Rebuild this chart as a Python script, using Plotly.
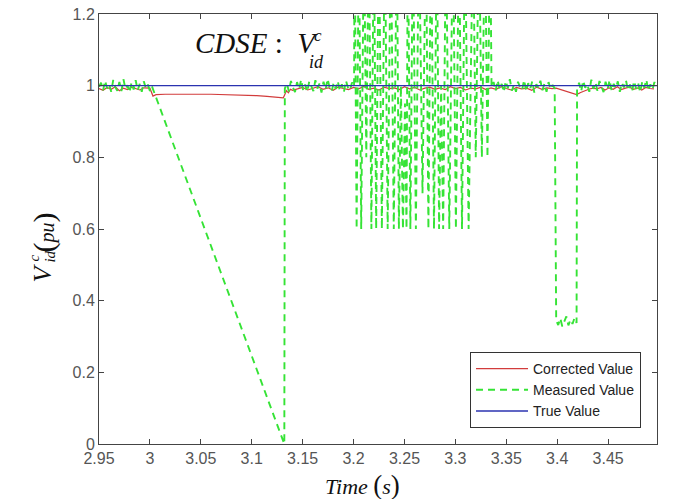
import plotly.graph_objects as go

# ---------------- data ----------------
x_tick_vals = [2.95, 3.0, 3.05, 3.1, 3.15, 3.2, 3.25, 3.3, 3.35, 3.4, 3.45]
x_tick_text = ["2.95", "3", "3.05", "3.1", "3.15", "3.2", "3.25", "3.3", "3.35", "3.4", "3.45"]
y_tick_vals = [0, 0.2, 0.4, 0.6, 0.8, 1.0, 1.2]
y_tick_text = ["0", "0.2", "0.4", "0.6", "0.8", "1", "1.2"]

true_t = [2.95, 3.5]
true_v = [1.0, 1.0]

MEAS_STEP = 0.002
meas_A_start = 2.950
meas_A = [0.997, 1.008, 0.987, 1.014, 0.992, 1.004, 0.983, 1.016, 0.996, 0.986, 1.010, 0.985, 1.018, 0.991,
          1.001, 0.981, 1.009, 0.989, 1.015, 0.987, 1.005, 0.983, 1.012, 0.993, 1.003, 0.985, 0.998]
ramp_t = [3.132]
ramp_v = [0.0]
meas_B_start = 3.1325
meas_B = [0.992, 1.006, 0.984, 1.013, 0.995, 0.982, 1.010, 0.990, 1.017, 0.987, 1.003, 0.983, 1.012, 0.996,
          0.985, 1.015, 0.992, 1.006, 0.981, 1.011, 0.989, 1.019, 0.994, 0.984, 1.008, 0.991, 1.013, 0.986,
          1.004, 0.982, 1.014, 0.995, 0.987, 1.009, 0.997]
osc_t = [3.2010, 3.2030, 3.2052, 3.2075, 3.2102, 3.2125, 3.2150, 3.2175, 3.2199, 3.2222, 3.2248, 3.2278,
         3.2307, 3.2335, 3.2366, 3.2395, 3.2425, 3.2445, 3.2465, 3.2485, 3.2505, 3.2520, 3.2533, 3.2558,
         3.2583, 3.2612, 3.2642, 3.2677, 3.2711, 3.2735, 3.2760, 3.2790, 3.2818, 3.2840, 3.2860, 3.2880,
         3.2907, 3.2940, 3.2976, 3.3005, 3.3035, 3.3065, 3.3094, 3.3130, 3.3173, 3.3200, 3.3232, 3.3260,
         3.3291, 3.3315, 3.3341]
osc_v = [1.45, 0.60, 1.45, 0.60, 1.45, 0.80, 1.45, 0.60, 1.45, 0.60, 1.45, 0.60,
         1.45, 0.60, 1.45, 0.60, 1.45, 0.60, 1.00, 0.60, 0.95, 0.60, 1.45, 0.60,
         1.45, 0.60, 1.45, 0.70, 1.45, 0.60, 1.45, 0.60, 1.45, 0.60, 1.00, 0.60,
         1.45, 0.60, 1.45, 0.60, 1.45, 0.60, 1.45, 0.60, 1.45, 0.80, 1.45, 0.80,
         1.45, 0.80, 1.45]
meas_D_start = 3.3355
meas_D = [0.996, 1.010, 0.985, 1.015, 0.990, 1.005, 0.982, 1.013, 0.993, 1.018, 0.986, 1.003, 0.983, 1.011,
          0.995, 0.988, 1.016, 0.984, 1.007, 0.991, 1.012, 0.981, 1.004, 0.994, 1.014, 0.987, 1.006, 0.983,
          1.010, 0.990, 1.002, 0.993]
dip_start = 3.399
meas_dip = [0.345, 0.332, 0.351, 0.328, 0.340, 0.356, 0.331, 0.347, 0.335, 0.352, 0.338]
meas_E_start = 3.4195
meas_E = [0.990, 1.008, 0.984, 1.014, 0.994, 1.004, 0.983, 1.017, 0.991, 1.010, 0.986, 1.013, 0.996, 0.982,
          1.011, 0.990, 1.016, 0.985, 1.005, 0.993, 1.012, 0.983, 1.008, 0.995, 1.015, 0.987, 1.003, 0.984,
          1.013, 0.991, 1.007, 0.982, 1.011, 0.994, 1.017, 0.986, 1.004, 0.989, 1.010, 0.996]

CORR_STEP_A = 0.004
corr_A_start = 2.950
corr_A = [0.992, 0.987, 0.995, 0.990, 0.997, 0.986, 0.993, 0.989, 0.996, 0.991, 0.988, 0.994, 0.992]
corr_F_t = [3.000, 3.003, 3.006, 3.015, 3.030, 3.045, 3.060, 3.075, 3.090, 3.105, 3.115, 3.125, 3.131,
            3.1325, 3.134, 3.136, 3.138, 3.140]
corr_F_v = [0.993, 0.971, 0.975, 0.976, 0.977, 0.976, 0.976, 0.975, 0.974, 0.972, 0.970, 0.968, 0.966,
            0.975, 0.986, 0.980, 0.990, 0.987]
CORR_STEP_B = 0.005
corr_B_start = 3.145
corr_B = [0.991, 0.995, 0.988, 0.993, 0.997, 0.990, 0.994, 0.987, 0.996, 0.992, 0.989, 0.995, 0.991, 0.998,
          0.990, 0.993, 0.988, 0.996, 0.992, 0.994, 0.989, 0.997, 0.991, 0.995, 0.988, 0.993, 0.996, 0.990,
          0.994, 0.989, 0.997, 0.992, 0.995, 0.988, 0.993, 0.991, 0.996, 0.989, 0.994, 0.990, 0.997, 0.992,
          0.988, 0.995, 0.991, 0.993, 0.987, 0.996, 0.990, 0.994, 0.992]
corr_dip_t = [3.399, 3.409, 3.419, 3.423, 3.427, 3.431, 3.435]
corr_dip_v = [0.993, 0.984, 0.975, 0.981, 0.986, 0.990, 0.993]
corr_E_start = 3.439
corr_E = [0.991, 0.995, 0.988, 0.994, 0.990, 0.997, 0.989, 0.993, 0.996, 0.990, 0.994, 0.988, 0.995, 0.992, 0.991]


def grid(start, values, step):
    return [round(start + i * step, 5) for i in range(len(values))]


meas_t = (grid(meas_A_start, meas_A, MEAS_STEP) + ramp_t + grid(meas_B_start, meas_B, MEAS_STEP) + osc_t
          + grid(meas_D_start, meas_D, MEAS_STEP) + grid(dip_start, meas_dip, MEAS_STEP)
          + grid(meas_E_start, meas_E, MEAS_STEP))
meas_v = meas_A + ramp_v + meas_B + osc_v + meas_D + meas_dip + meas_E

corr_t = (grid(corr_A_start, corr_A, CORR_STEP_A) + corr_F_t + grid(corr_B_start, corr_B, CORR_STEP_B)
          + corr_dip_t + grid(corr_E_start, corr_E, CORR_STEP_A))
corr_v = corr_A + corr_F_v + corr_B + corr_dip_v + corr_E

# ---------------- figure ----------------
RED = "#d23c3c"
GREEN = "#35e335"
BLUE = "#2b33b0"
SERIF = "Liberation Serif, Times New Roman, serif"
SANS = "Liberation Sans, Arial, sans-serif"

fig = go.Figure()
fig.add_trace(go.Scatter(x=corr_t, y=corr_v, mode="lines", name="Corrected Value",
                         line=dict(color=RED, width=1.2)))
fig.add_trace(go.Scatter(x=meas_t, y=meas_v, mode="lines", name="Measured Value",
                         line=dict(color=GREEN, width=1.9, dash="7px,5px")))
fig.add_trace(go.Scatter(x=true_t, y=true_v, mode="lines", name="True Value",
                         line=dict(color=BLUE, width=1.4)))

# page body margin (8px) offsets the figure inside the window
OFF = 8
W, H = 687 - OFF, 499 - OFF
# plot area in window pixel coordinates
PL, PR, PT, PB = 98.5, 657, 14, 444


def px(x):
    return (x - PL) / (PR - PL)


def py(y):
    return (PB - y) / (PB - PT)


ann = []
# inline label
ann.append(dict(text="<i>CDSE</i> :  <i>V</i>", x=px(193), y=py(43), xanchor="left", yanchor="middle",
                font=dict(family=SERIF, size=29, color="#111")))
ann.append(dict(text="<i>c</i>", x=px(312), y=py(35), xanchor="left", yanchor="middle",
                font=dict(family=SERIF, size=17, color="#111")))
ann.append(dict(text="<i>id</i>", x=px(307), y=py(62), xanchor="left", yanchor="middle",
                font=dict(family=SERIF, size=18, color="#111")))
# x title
ann.append(dict(text="<i>Time</i> <span style='font-size:27px'>(</span><i>s</i><span style='font-size:27px'>)</span>",
                x=px(362), y=py(485), xanchor="center", yanchor="middle",
                font=dict(family=SERIF, size=22, color="#111")))
# y title pieces (rotated)
ann.append(dict(text="<i>V</i>", x=px(41), y=py(273), xanchor="center", yanchor="middle", textangle=-90,
                font=dict(family=SERIF, size=26, color="#111")))
ann.append(dict(text="<i>c</i>", x=px(33), y=py(258), xanchor="center", yanchor="middle", textangle=-90,
                font=dict(family=SERIF, size=15, color="#111")))
ann.append(dict(text="<i>id</i>", x=px(49), y=py(257), xanchor="center", yanchor="middle", textangle=-90,
                font=dict(family=SERIF, size=15, color="#111")))
ann.append(dict(text="<span style='font-size:30px'>(</span><i>pu</i><span style='font-size:30px'>)</span>",
                x=px(43), y=py(233), xanchor="center", yanchor="middle", textangle=-90,
                font=dict(family=SERIF, size=20, color="#111")))
for a in ann:
    a.update(xref="paper", yref="paper", showarrow=False)

axis_common = dict(showgrid=False, zeroline=False, showline=True, linecolor="#444", linewidth=1,
                   mirror="ticks", ticks="inside", ticklen=5, tickcolor="#444", automargin=False,
                   ticklabeloverflow="allow",
                   tickfont=dict(family=SANS, size=16, color="#555"))

fig.update_layout(
    width=W, height=H,
    margin=dict(l=PL - OFF, r=W - (PR - OFF), t=PT - OFF, b=H - (PB - OFF), autoexpand=False),
    paper_bgcolor="white", plot_bgcolor="white",
    showlegend=True,
    legend=dict(x=px(641), y=py(428), xanchor="right", yanchor="bottom",
                bgcolor="white", bordercolor="#333", borderwidth=1,
                font=dict(family=SANS, size=14, color="#222"),
                tracegroupgap=0, itemwidth=52),
    xaxis=dict(range=[2.95, 3.498], tickvals=x_tick_vals, ticktext=x_tick_text, **axis_common),
    yaxis=dict(range=[0, 1.2], tickvals=y_tick_vals, ticktext=y_tick_text, **axis_common),
    annotations=ann,
)

fig.write_html("out.html")
